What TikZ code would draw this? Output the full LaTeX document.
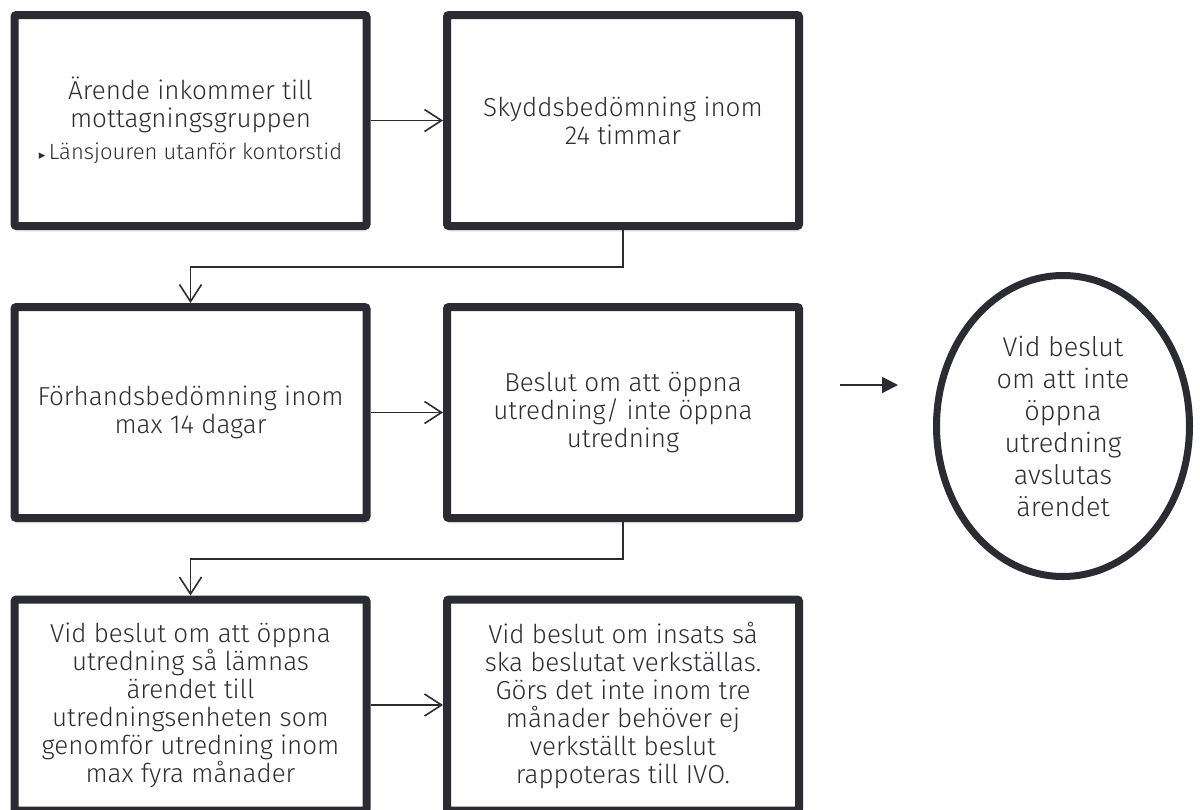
\documentclass[tikz,border=0pt]{standalone}
\usepackage{fontspec}
\setmainfont{Fira Sans Light}
\newfontfamily\markfont{DejaVu Sans}
\usetikzlibrary{arrows.meta,shapes.geometric,shadows,positioning}
\definecolor{flowink}{HTML}{2B2B33}
\definecolor{flowtext}{HTML}{2E2E36}
\tikzset{
  flow box/.style={
    rounded corners=2pt,
    draw=flowink,
    line width=8pt,
    fill=white,
    align=center,
    inner sep=0pt,
    minimum width=352pt,
    minimum height=211pt,
    text=flowtext,
    font=\fontsize{26}{28}\selectfont,
    drop shadow={shadow xshift=1pt, shadow yshift=-6pt, opacity=0.12},
  },
  flow end/.style={
    ellipse,
    draw=flowink,
    line width=7pt,
    fill=white,
    align=center,
    inner sep=0pt,
    minimum width=253pt,
    minimum height=301pt,
    text=flowtext,
    font=\fontsize{27}{32}\selectfont,
  },
  flow arrow/.style={-{Straight Barb[length=17pt,width=22pt]}, line width=1.6pt, draw=flowink},
  flow pointer/.style={-{Triangle[length=16pt,width=16pt]}, line width=2pt, draw=flowink},
}

\begin{document}
\begin{tikzpicture}[x=1pt, y=-1pt]
  \useasboundingbox (0,0) rectangle (1200,809);

  % --- Row 1: intake and protection assessment ---
  \node[flow box] (arende) at (190.5,120.5)
    {Ärende inkommer till\\mottagningsgruppen\\[4pt]
     {\fontsize{22}{24}\selectfont{\markfont\fontsize{13}{24}\selectfont ▸}\,Länsjouren utanför kontorstid}};
  \node[flow box] (skydd) at (623,120.5)
    {Skyddsbedömning inom\\24 timmar};

  % --- Row 2: pre-assessment and decision ---
  \node[flow box] (forhand) at (190.5,412.5)
    {Förhandsbedömning inom\\max 14 dagar};
  \node[flow box] (beslut) at (623,412.5)
    {Beslut om att öppna\\utredning/ inte öppna\\utredning};

  % --- Row 3: investigation and enforcement (cut off at the bottom) ---
  \node[flow box] (utredning) at (190.5,705)
    {Vid beslut om att öppna\\utredning så lämnas\\ärendet till\\utredningsenheten som\\genomför utredning inom\\max fyra månader};
  \node[flow box] (insats) at (623,705)
    {Vid beslut om insats så\\ska beslutat verkställas.\\Görs det inte inom tre\\månader behöver ej\\verkställt beslut\\rappoteras till IVO.};

  % --- Closing case ---
  \node[flow end] (avslut) at (1063,426)
    {Vid beslut\\om att inte\\öppna\\utredning\\avslutas\\ärendet};

  % --- Connectors ---
  \draw[flow arrow] (arende.east) -- (skydd.west);
  \draw[flow arrow] (skydd.south) -- ++(0,37) -| (forhand.north);
  \draw[flow arrow] (forhand.east) -- (beslut.west);
  \draw[flow arrow] (beslut.south) -- ++(0,37) -| (utredning.north);
  \draw[flow arrow] (utredning.east) -- (insats.west);

  % free-standing pointer towards the closing case
  \coordinate (ptr start) at (840,385);
  \coordinate (ptr end) at (898,385);
  \draw[flow pointer] (ptr start) -- (ptr end);

\end{tikzpicture}
\end{document}
